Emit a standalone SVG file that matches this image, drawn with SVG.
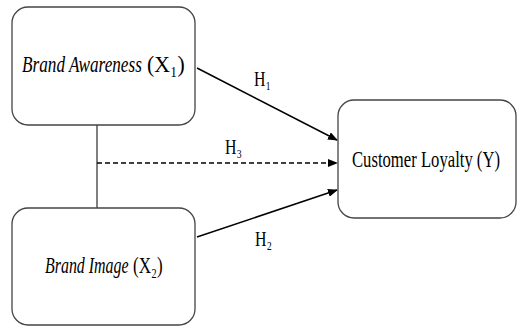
<svg xmlns="http://www.w3.org/2000/svg" width="520" height="328" viewBox="0 0 520 328">
<style>
.box{fill:#fff;stroke:#444;stroke-width:1.3}
text{font-family:'Liberation Serif','Times New Roman','DejaVu Serif',serif;fill:#000}
.t{font-size:23px}
.i{font-style:italic}
.h{font-size:21px}
.ln{stroke:#000;stroke-width:1.5;fill:none}
</style>
<defs>
<marker id="ah" markerWidth="10" markerHeight="8" refX="9" refY="4" orient="auto" markerUnits="userSpaceOnUse">
<path d="M0,0 L10,4 L0,8 z" fill="#000"/>
</marker>
</defs>
<rect width="520" height="328" fill="#fff"/>
<g id="connectors">
<line x1="97" y1="125" x2="97" y2="208" stroke="#555" stroke-width="1.5"/>
<line class="ln" x1="197" y1="68" x2="337" y2="140" marker-end="url(#ah)"/>
<line class="ln" x1="97" y1="163" x2="337" y2="163" stroke-dasharray="5,3" marker-end="url(#ah)"/>
<line class="ln" x1="197" y1="237" x2="337" y2="190" marker-end="url(#ah)"/>
<text class="h" transform="translate(254,86) scale(0.74,1)" textLength="23" lengthAdjust="spacingAndGlyphs">H₁</text>
<text class="h" transform="translate(225,154) scale(0.74,1)" textLength="23" lengthAdjust="spacingAndGlyphs">H₃</text>
<text class="h" transform="translate(255,246) scale(0.74,1)" textLength="23" lengthAdjust="spacingAndGlyphs">H₂</text>
</g>
<g id="brand-awareness">
<rect class="box" x="12" y="7" width="183" height="118" rx="16"/>
<text class="t i" transform="translate(22,72) scale(0.74,1)" textLength="162" lengthAdjust="spacingAndGlyphs">Brand Awareness</text>
<text class="t" transform="translate(147,72) scale(0.74,1)" textLength="51" lengthAdjust="spacingAndGlyphs">(X₁)</text>
</g>
<g id="brand-image">
<rect class="box" x="12" y="208" width="183" height="117" rx="16"/>
<text class="t i" transform="translate(45,273) scale(0.74,1)" textLength="113" lengthAdjust="spacingAndGlyphs">Brand Image</text>
<text class="t" transform="translate(133,273) scale(0.74,1)" textLength="40" lengthAdjust="spacingAndGlyphs">(X₂)</text>
</g>
<g id="customer-loyalty">
<rect class="box" x="338" y="100" width="178" height="118" rx="16"/>
<text class="t" transform="translate(352,167) scale(0.74,1)" textLength="200" lengthAdjust="spacingAndGlyphs">Customer Loyalty (Y)</text>
</g>
</svg>
